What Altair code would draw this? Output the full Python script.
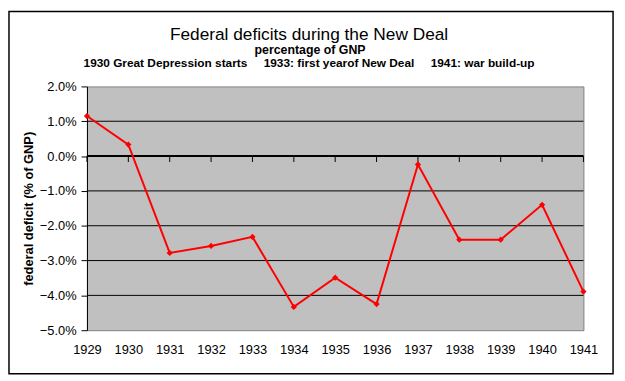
import altair as alt
import pandas as pd

years = [1929, 1930, 1931, 1932, 1933, 1934, 1935, 1936, 1937, 1938, 1939, 1940, 1941]
deficit = [1.15, 0.33, -2.78, -2.58, -2.32, -4.33, -3.49, -4.25, -0.24, -2.40, -2.40, -1.40, -3.89]
y_ticks = [-5, -4, -3, -2, -1, 0, 1, 2]
grid_levels = [-4, -3, -2, -1, 1]
NB = "\u00a0" * 5
title_main = "Federal deficits during the New Deal"
title_sub1 = "percentage of GNP"
title_sub2 = "1930 Great Depression starts" + NB + "1933: first yearof New Deal" + NB + "1941: war build-up"
y_title = "federal deficit (% of GNP)"

FONT = "Liberation Sans"
W, H = 503, 247

df = pd.DataFrame({"year": years, "deficit": deficit})
xscale = alt.Scale(domain=[1929, 1941], nice=False, zero=False)
yscale = alt.Scale(domain=[-5, 2], nice=False, zero=False)

xaxis = alt.Axis(
    values=years, tickCount=len(years), format="d", grid=False, domain=False, ticks=False,
    labelFontSize=13, labelPadding=14, title=None, labelFont=FONT,
    labelColor="black", labelOverlap=False, labelFlush=False, labelBound=False,
)
yaxis = alt.Axis(
    values=y_ticks, tickCount=len(y_ticks), labelExpr="format(datum.value, '.1f') + '%'",
    grid=False, domain=True, domainColor="black", domainWidth=1,
    tickColor="black", tickSize=6, labelPadding=5, labelFontSize=13,
    labelFont=FONT, labelColor="black", labelOverlap=False, labelFlush=False,
    labelBound=False,
    title=y_title, titleFont=FONT, titleFontSize=13, titleFontWeight="bold",
    titleColor="black", titleX=-59, titleY=H / 2, titleAngle=-90,
    titleAlign="center", titleBaseline="middle",
)

border = alt.Chart(pd.DataFrame({"a": [0]})).mark_rect(
    fillOpacity=0, stroke="black", strokeWidth=1.5
).encode(x=alt.value(-79), x2=alt.value(533), y=alt.value(-76), y2=alt.value(291))

grid = alt.Chart(pd.DataFrame({"deficit": grid_levels})).mark_rule(
    color="black", strokeWidth=1
).encode(y=alt.Y("deficit:Q", scale=yscale))

zero = alt.Chart(pd.DataFrame({"deficit": [0]})).mark_rule(
    color="black", strokeWidth=2
).encode(y=alt.Y("deficit:Q", scale=yscale))

xticks = alt.Chart(pd.DataFrame({"year": years})).mark_rule(
    color="black", strokeWidth=1
).encode(
    x=alt.X("year:Q", scale=xscale),
    y=alt.datum(0),
    y2=alt.datum(-0.17),
)

line = alt.Chart(df).mark_line(color="#FF0000", strokeWidth=2).encode(
    x=alt.X("year:Q", scale=xscale, axis=xaxis),
    y=alt.Y("deficit:Q", scale=yscale, axis=yaxis),
)
pts = alt.Chart(df).mark_point(
    shape="diamond", filled=True, color="#FF0000", size=40, opacity=1
).encode(
    x=alt.X("year:Q", scale=xscale),
    y=alt.Y("deficit:Q", scale=yscale),
)

t1 = alt.Chart(pd.DataFrame({"t": [title_main]})).mark_text(
    font=FONT, fontSize=17.5, align="center", baseline="alphabetic", color="black"
).encode(text="t:N", x=alt.value(225), y=alt.value(-47))
t2 = alt.Chart(pd.DataFrame({"t": [title_sub1]})).mark_text(
    font=FONT, fontSize=12.5, fontWeight="bold", align="center", baseline="alphabetic", color="black"
).encode(text="t:N", x=alt.value(226), y=alt.value(-33))
t3 = alt.Chart(pd.DataFrame({"t": [title_sub2]})).mark_text(
    font=FONT, fontSize=12, fontWeight="bold", align="center", baseline="alphabetic", color="black"
).encode(text="t:N", x=alt.value(225), y=alt.value(-19.5))

chart = alt.layer(border, grid, zero, xticks, line, pts, t1, t2, t3).properties(
    width=W, height=H,
    autosize=alt.AutoSizeParams(type="none"),
    padding={"left": 80, "top": 77, "right": 34, "bottom": 49},
    background="white",
).configure_view(
    fill="#C0C0C0", stroke="#808080", strokeWidth=1
).configure_axis(labelOverlap=False)

chart.save("out.html", embed_options={"renderer": "svg", "actions": False})
